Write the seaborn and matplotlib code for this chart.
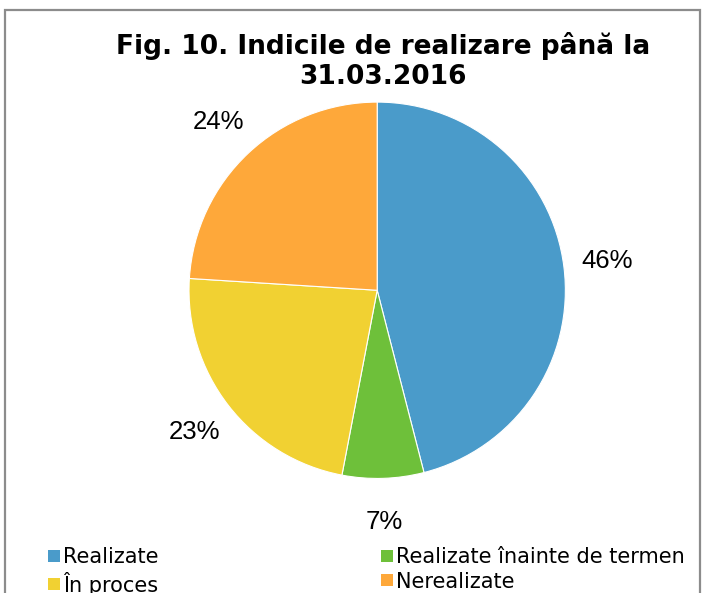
import matplotlib
matplotlib.use("Agg")
import matplotlib.pyplot as plt
from matplotlib.patches import Patch, Rectangle
import seaborn as sns

# data
categories = ["Realizate", "Realizate înainte de termen", "În proces", "Nerealizate"]
values = [46, 7, 23, 24]
colors = ["#4A9BCA", "#6EC03A", "#F1D132", "#FEA83A"]
title = "Fig. 10. Indicile de realizare până la\n31.03.2016"

sns.set_theme(style="white")
plt.rcParams['font.family'] = ['DejaVu Sans']
plt.rcParams['text.color'] = 'black'

fig = plt.figure(figsize=(7.07, 5.93), dpi=100)

# gray frame around the chart area (bottom runs off the image)
fig.patches.append(Rectangle((5 / 707, -0.05), 695 / 707, 1.05 - 10 / 593,
                             transform=fig.transFigure, fill=False,
                             edgecolor="#8c8c8c", linewidth=1.6))

ax = fig.add_axes([0.264, 0.190, 0.539, 0.641])
wedges, texts, autotexts = ax.pie(
    values, colors=sns.color_palette(colors), startangle=90, counterclock=False,
    autopct=lambda p: f"{p:.0f}%", pctdistance=1.23,
    wedgeprops=dict(edgecolor="white", linewidth=0.8),
    textprops=dict(fontsize=18.5, family="Liberation Sans", color="black"))
ax.set_xlim(-1.01, 1.01)
ax.set_ylim(-1.01, 1.01)
ax.set_aspect("equal")

fig.text(0.542, 1 - 61 / 593, title, ha="center", va="center",
         fontsize=19, fontweight="bold", linespacing=1.2, color="black")

# legend laid out row by row in two columns
order = [0, 2, 1, 3]
handles = [Patch(facecolor=colors[i], edgecolor="none") for i in order]
labels = [categories[i] for i in order]
fig.legend(handles, labels, ncol=2, loc="upper left",
           bbox_to_anchor=(40 / 707, 1 - 539 / 593), frameon=False, fontsize=15,
           handlelength=0.55, handleheight=0.55, handletextpad=0.15,
           columnspacing=10.7, labelspacing=0.2, borderaxespad=0,
           labelcolor="black")

fig.savefig("out.png", dpi=100)
